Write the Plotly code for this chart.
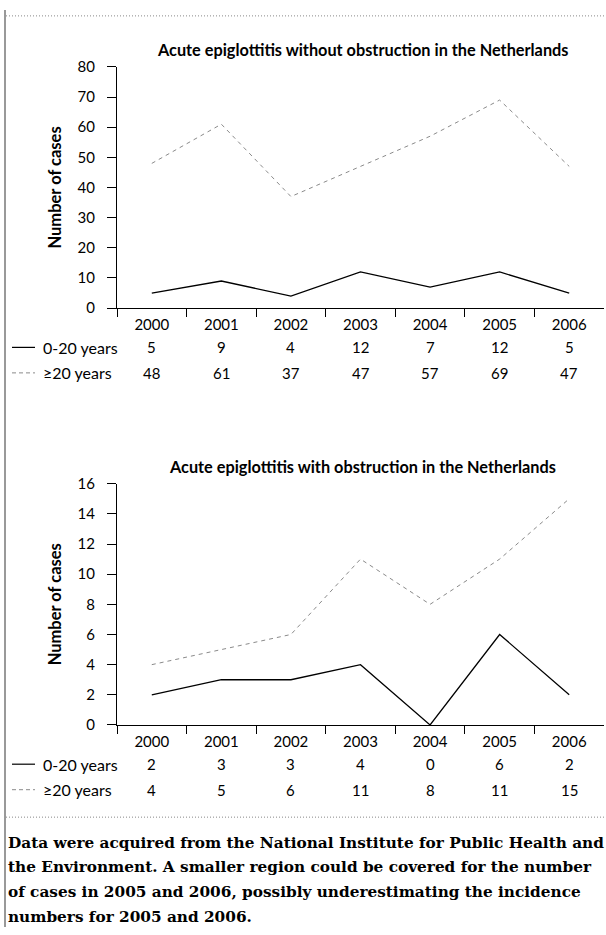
import plotly.graph_objects as go

W, H = 606, 935

years = ["2000", "2001", "2002", "2003", "2004", "2005", "2006"]
series_names = ["0-20 years", "≥20 years"]

no_obstr_young = [5, 9, 4, 12, 7, 12, 5]
no_obstr_old = [48, 61, 37, 47, 57, 69, 47]

obstr_young = [2, 3, 3, 4, 0, 6, 2]
obstr_old = [4, 5, 6, 11, 8, 11, 15]

title1 = "Acute epiglottitis without obstruction in the Netherlands"
title2 = "Acute epiglottitis with obstruction in the Netherlands"
ytitle = "Number of cases"
footnote_lines = [
    "Data were acquired from the National Institute for Public Health and",
    "the Environment. A smaller region could be covered for the number",
    "of cases in 2005 and 2006, possibly underestimating the incidence",
    "numbers for 2005 and 2006.",
]

SANS = "Lato, 'Open Sans', sans-serif"
SERIF = "'DejaVu Serif', 'Liberation Serif', serif"
GRAY = "#8a8a8a"


def px_x(p):
    return p / W


def px_y(p):
    return 1 - p / H


fig = go.Figure()

fig.add_trace(go.Scatter(x=years, y=no_obstr_old, mode="lines", xaxis="x", yaxis="y",
                         line=dict(color=GRAY, width=1, dash="4px,4px"), showlegend=False))
fig.add_trace(go.Scatter(x=years, y=no_obstr_young, mode="lines", xaxis="x", yaxis="y",
                         line=dict(color="black", width=1.3), showlegend=False))
fig.add_trace(go.Scatter(x=years, y=obstr_old, mode="lines", xaxis="x2", yaxis="y2",
                         line=dict(color=GRAY, width=1, dash="4px,4px"), showlegend=False))
fig.add_trace(go.Scatter(x=years, y=obstr_young, mode="lines", xaxis="x2", yaxis="y2",
                         line=dict(color="black", width=1.3), showlegend=False))

# pixel layout of each panel
P1 = dict(title=40, top=58, bottom=304, row1=344, row2=370)
SHIFT = 425
P2 = {k: v + SHIFT for k, v in P1.items()}

xdom = [px_x(117), px_x(604)]
common_x = dict(type="category", range=[-0.5, 6.5], showline=True, linecolor="black", linewidth=1,
                ticks="outside", tickson="boundaries", ticklen=8, tickcolor="black", tickwidth=1,
                showgrid=False, zeroline=False, domain=xdom, ticklabelstandoff=3,
                tickfont=dict(family=SANS, size=15, color="black"))
common_y = dict(showline=True, linecolor="black", linewidth=1, ticks="outside", ticklen=9,
                tickcolor="black", tickwidth=1, showgrid=False, zeroline=False,
                ticklabelstandoff=9,
                tickfont=dict(family=SANS, size=15, color="black"))

fig.update_layout(
    width=W, height=H, margin=dict(l=0, r=0, t=0, b=0),
    paper_bgcolor="white", plot_bgcolor="white", showlegend=False,
    xaxis=dict(common_x, anchor="y"),
    yaxis=dict(common_y, anchor="x", range=[0, 80], dtick=10,
               domain=[px_y(P1["bottom"]), px_y(P1["top"])]),
    xaxis2=dict(common_x, anchor="y2"),
    yaxis2=dict(common_y, anchor="x2", range=[0, 16], dtick=2,
                domain=[px_y(P2["bottom"]), px_y(P2["top"])]),
)

ann = []
shapes = []

for t, P in [(title1, P1), (title2, P2)]:
    ann.append(dict(text="<b>%s</b>" % t, x=px_x(362), y=px_y(P["title"]), xref="paper", yref="paper",
                    showarrow=False, xanchor="center", yanchor="middle",
                    font=dict(family=SANS, size=16.3, color="black")))
    ann.append(dict(text="<b>%s</b>" % ytitle, x=px_x(55), y=px_y((P["top"] + P["bottom"]) / 2),
                    xref="paper", yref="paper", showarrow=False, textangle=-90,
                    xanchor="center", yanchor="middle",
                    font=dict(family=SANS, size=16.5, color="black")))

tables = [
    ("x", [no_obstr_young, no_obstr_old], P1),
    ("x2", [obstr_young, obstr_old], P2),
]
for xref, rows, P in tables:
    for ri, vals in enumerate(rows):
        ypix = P["row1"] if ri == 0 else P["row2"]
        ann.append(dict(text=series_names[ri], x=px_x(41), y=px_y(ypix), xref="paper", yref="paper",
                        showarrow=False, xanchor="left", yanchor="middle",
                        font=dict(family=SANS, size=16, color="black")))
        for i, v in enumerate(vals):
            ann.append(dict(text=str(v), x=i, y=px_y(ypix), xref=xref, yref="paper",
                            showarrow=False, xanchor="center", yanchor="middle",
                            font=dict(family=SANS, size=15, color="black")))
        shapes.append(dict(type="line", xref="paper", yref="paper",
                           x0=px_x(12), x1=px_x(35), y0=px_y(ypix), y1=px_y(ypix),
                           line=dict(color="black" if ri == 0 else GRAY, width=1.2 if ri == 0 else 1,
                                     dash="solid" if ri == 0 else "4px,3px")))

for i, line in enumerate(footnote_lines):
    ann.append(dict(text="<b>%s</b>" % line, x=px_x(6), y=px_y(849 + i * 25.3), xref="paper", yref="paper",
                    showarrow=False, xanchor="left", yanchor="middle",
                    font=dict(family=SERIF, size=15.3, color="black")))

shapes.append(dict(type="line", xref="paper", yref="paper", x0=px_x(5), x1=px_x(5), y0=0, y1=1,
                   line=dict(color="#777777", width=1.5)))
for yp in [6, 823]:
    shapes.append(dict(type="line", xref="paper", yref="paper", x0=px_x(6), x1=1, y0=px_y(yp), y1=px_y(yp),
                       line=dict(color="#888888", width=1, dash="1px,2px")))

fig.update_layout(annotations=ann, shapes=shapes)
fig.write_html("out.html", config={"displayModeBar": False},
               post_script="document.body.style.margin='0';document.body.style.overflow='hidden';")
